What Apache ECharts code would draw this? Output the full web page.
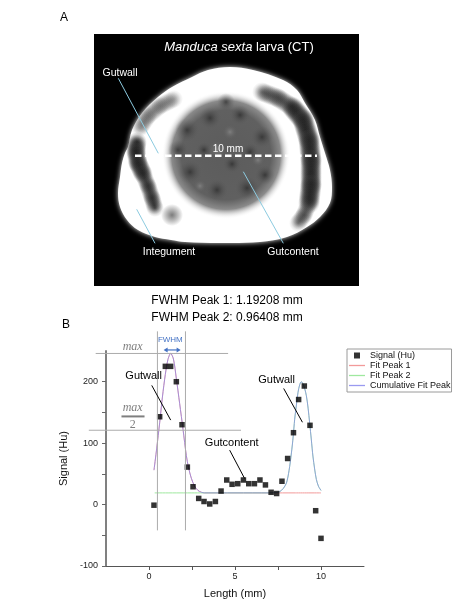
<!DOCTYPE html>
<html>
<head>
<meta charset="utf-8">
<script src="https://cdn.jsdelivr.net/npm/echarts@6.0.0/dist/echarts.min.js"></script>
<style>
html,body{margin:0;padding:0;background:#fff}
#main{width:468px;height:608px}
</style>
</head>
<body>
<div id="main"></div>
<script>
var font = 'Liberation Sans, Arial, Helvetica, sans-serif';

// measured signal along the 10 mm line
var lengthMm = [0.29,0.62,0.95,1.26,1.59,1.92,2.23,2.56,2.89,3.2,3.53,3.86,4.19,4.52,4.83,5.16,5.49,5.8,6.13,6.45,6.77,7.1,7.42,7.73,8.06,8.4,8.7,9.03,9.36,9.69,10.0];
var signalHu = [-1,143,225,225,200,130,61,29,10,5,1,5,22,40,33,34,40,34,34,40,32,20,18,38,75,117,171,193,129,-10,-55];

// fit curves
var peak1X = [0.29,0.45,0.62,0.78,0.95,1.1,1.26,1.42,1.59,1.78,1.98,2.17,2.3,2.46,2.65,2.85,3.05,3.24,5,7,8.5,10];
var peak1Y = [56,92,133,175,212,236,246,237,205,165,122,80,60,43,30,23,20,19,19,19,19,19];
var peak2X = [0.33,3,5,7,7.4,7.6,7.8,7.99,8.14,8.28,8.38,8.47,8.57,8.66,8.76,8.86,8.96,9.05,9.15,9.25,9.34,9.44,9.53,9.63,9.73,9.85,10];
var peak2Y = [19,19,19,19,19.5,21,26,35,55,84,110,139,162,182,195,200,196,189,177,157,133,105,79,58,41,30,23];
var cumX = [0.29,0.45,0.62,0.78,0.95,1.1,1.26,1.42,1.59,1.78,1.98,2.17,2.3,2.46,2.65,2.85,3.05,3.24,5,7,7.4,7.6,7.8,7.99,8.14,8.28,8.38,8.47,8.57,8.66,8.76,8.86,8.96,9.05,9.15,9.25,9.34,9.44,9.53,9.63,9.73,9.85,10];
var cumY = [56,92,133,175,212,236,246,237,205,165,122,80,60,43,30,23,20,19,19,19,19.5,21,26,35,55,84,110,139,162,182,195,200,196,189,177,157,133,105,79,58,41,30,23];

var xLabels = [0,5,10];
var xTicks = [0,2.5,5,7.5,10];
var yLabels = [-100,0,100,200];
var yTicks = [-100,-50,0,50,100,150,200];

var colFit1 = '#f29a9a', colFit2 = '#9fe89f', colCum = '#9a9af0';

function zip(a,b){
    var out = [];
    for(var i=0;i<a.length;i++){ out.push([a[i],b[i]]); }
    return out;
}

var lineIcon = 'path://M0,0h16v1.3h-16z';
function legendLine(name,c){
    return {name:name, icon:lineIcon, itemStyle:{color:c, borderWidth:0, opacity:1}, lineStyle:{color:c, opacity:1}};
}

var chart = echarts.init(document.getElementById('main'));

var option = {
    animation:false,
    textStyle:{fontFamily:font},
    grid:{left:106,top:351,width:258,height:215},
    legend:{
        orient:'vertical',
        left:347, top:349,
        itemWidth:16, itemHeight:6, itemGap:1,
        padding:[2,1,2,2],
        borderColor:'#9a9a9a', borderWidth:1,
        textStyle:{fontSize:9, color:'#111', fontFamily:font},
        data:[
            {name:'Signal (Hu)', icon:'path://M0,0h1v1h-1z'},
            legendLine('Fit Peak 1',colFit1),
            legendLine('Fit Peak 2',colFit2),
            legendLine('Cumulative Fit Peak',colCum)
        ]
    },
    xAxis:{
        type:'value', min:-2.5, max:12.5,
        name:'Length (mm)', nameLocation:'middle', nameGap:22,
        nameTextStyle:{fontSize:11, color:'#111'},
        axisLine:{onZero:false, lineStyle:{color:'#555', width:1}},
        axisTick:{length:4, customValues:xTicks, lineStyle:{color:'#555'}},
        axisLabel:{customValues:xLabels, fontSize:9, color:'#222', margin:6},
        splitLine:{show:false}
    },
    yAxis:{
        type:'value', min:-100, max:250,
        name:'Signal (Hu)', nameLocation:'middle', nameGap:27,
        nameTextStyle:{fontSize:11, color:'#111'},
        axisLine:{show:true, onZero:false, lineStyle:{color:'#808080', width:2}},
        axisTick:{show:true, length:4, customValues:yTicks, lineStyle:{color:'#666'}},
        axisLabel:{customValues:yLabels, fontSize:9, color:'#222', margin:8},
        splitLine:{show:false}
    },
    series:[
        {
            name:'Fit Peak 1', type:'line', data:zip(peak1X,peak1Y),
            smooth:0.3, symbol:'none', z:2,
            lineStyle:{color:colFit1, width:1}, itemStyle:{color:colFit1}
        },
        {
            name:'Fit Peak 2', type:'line', data:zip(peak2X,peak2Y),
            smooth:0.3, symbol:'none', z:2,
            lineStyle:{color:colFit2, width:1}, itemStyle:{color:colFit2}
        },
        {
            name:'Cumulative Fit Peak', type:'line', data:zip(cumX,cumY),
            smooth:0.3, symbol:'none', z:3,
            lineStyle:{color:'#8888ee', width:1, opacity:0.7}, itemStyle:{color:colCum}
        },
        {
            name:'Signal (Hu)', type:'scatter', data:zip(lengthMm,signalHu),
            symbol:'rect', symbolSize:5.5, z:5,
            itemStyle:{color:'#000'}
        }
    ]
};
chart.setOption(option);

// ---- panel A: CT slice drawn as shapes ----
var bodyOutline = [[158,97],[172,87],[192,77],[208,70],[230,67],[253,70],[283,80],[297,90],[305,103],[315,120],[320,137],[325,153],[330,170],[332,187],[330,203],[320,217],[307,227],[287,237],[260,242],[220,243],[185,242],[171,240],[155,237],[138,230],[127,220],[120,207],[118,193],[120,177],[122,163],[125,153],[128,147],[132,130],[142,113]];
var leftBandCore = [[137,142],[136,152],[138,163],[143,174]];
var leftBandTail = [[143,174],[148,186],[152,198],[155,208]];
var leftGray = [[140,128],[148,116],[160,106],[174,99]];
var rightBandTop = [[262,92],[278,98],[292,107]];
var rightBand = [[292,107],[303,120],[309,140],[311,160],[311,185],[309,203]];
var rightBandTail = [[309,203],[304,215],[298,223]];
var darkSpots = [[187,130,12],[210,118,11],[240,115,10],[262,137,11],[190,172,12],[217,190,11],[247,188,12],[265,175,10],[232,164,9],[204,150,8],[250,152,9],[178,150,10],[226,102,9]];
var lightSpots = [[217,150,10],[230,132,8],[200,186,7],[258,160,7]];

function spot(x,y,r,c){
    return {
        type:'circle', shape:{cx:x,cy:y,r:r},
        style:{fill:new echarts.graphic.RadialGradient(0.5,0.5,0.5,[{offset:0,color:c},{offset:1,color:'rgba(90,90,90,0)'}])}
    };
}
// soft dots along a path give a blurred band
function blurBand(points, r, c){
    for(var i=0;i<points.length-1;i++){
        var a = points[i], b = points[i+1];
        var d = Math.sqrt((b[0]-a[0])*(b[0]-a[0])+(b[1]-a[1])*(b[1]-a[1]));
        var n = Math.max(1, Math.round(d/2.5));
        for(var j=0;j<=n;j++){
            var t = j/n;
            g.push(spot(a[0]+(b[0]-a[0])*t, a[1]+(b[1]-a[1])*t, r, c));
        }
    }
}

var g = [];
g.push({type:'rect', shape:{x:94,y:34,width:265,height:252}, style:{fill:'#000'}});
g.push({type:'polygon', shape:{points:bodyOutline, smooth:0.35},
    style:{fill:'#fff', shadowBlur:5, shadowColor:'rgba(255,255,255,0.9)'}});
blurBand(leftGray, 9, 'rgba(100,100,100,0.4)');
blurBand(leftBandCore, 10, 'rgba(0,0,0,0.85)');
blurBand(leftBandTail, 9, 'rgba(20,20,20,0.6)');
blurBand(rightBandTop, 10, 'rgba(50,50,50,0.5)');
blurBand(rightBand, 11, 'rgba(0,0,0,0.85)');
blurBand(rightBandTail, 9, 'rgba(50,50,50,0.45)');
g.push(spot(172,215,11,'rgba(110,110,110,0.9)'));
g.push({type:'ellipse', shape:{cx:226,cy:155,rx:64,ry:66},
    style:{fill:new echarts.graphic.RadialGradient(0.5,0.5,0.5,[
        {offset:0,color:'#5c5c5c'},{offset:0.7,color:'#606060'},{offset:0.85,color:'#8a8a8a'},{offset:1,color:'rgba(255,255,255,0)'}])}});
darkSpots.forEach(function(p){ g.push(spot(p[0],p[1],p[2],'rgba(40,40,40,0.7)')); });
lightSpots.forEach(function(p){ g.push(spot(p[0],p[1],p[2],'rgba(135,135,135,0.8)')); });
g.push({type:'line', shape:{x1:135,y1:155.7,x2:317,y2:155.7},
    style:{stroke:'#fff', lineWidth:2.5, lineDash:[6.5,3.5]}});
g.push({type:'text', x:228, y:149, style:{text:'10 mm', fill:'#fff', fontSize:10, fontFamily:font, align:'center', verticalAlign:'middle'}});
g.push({type:'text', x:239, y:47, style:{text:'{i|Manduca sexta} larva (CT)', fill:'#fff', fontSize:13, fontFamily:font, align:'center', verticalAlign:'middle',
    rich:{i:{fontStyle:'italic', fill:'#fff', fontSize:13, fontFamily:font}}}});
// pointer lines and labels
[[118.3,78.3,158.3,153.3],[136.7,209.3,155,243.3],[243.3,171.7,283.3,243.3]].forEach(function(l){
    g.push({type:'line', shape:{x1:l[0],y1:l[1],x2:l[2],y2:l[3]}, style:{stroke:'#8ccbe0', lineWidth:1}});
});
[['Gutwall',120,73],['Integument',169,252],['Gutcontent',293,252]].forEach(function(t){
    g.push({type:'text', x:t[1], y:t[2], style:{text:t[0], fill:'#fff', fontSize:10.5, fontFamily:font, align:'center', verticalAlign:'middle'}});
});
g.push({type:'text', x:64, y:18, style:{text:'A', fill:'#000', fontSize:12, fontFamily:font, align:'center', verticalAlign:'middle'}});
g.push({type:'text', x:66, y:325, style:{text:'B', fill:'#000', fontSize:12, fontFamily:font, align:'center', verticalAlign:'middle'}});
g.push({type:'text', x:227, y:301, style:{text:'FWHM Peak 1: 1.19208 mm', fill:'#000', fontSize:12, fontFamily:font, align:'center', verticalAlign:'middle'}});
g.push({type:'text', x:227, y:318, style:{text:'FWHM Peak 2: 0.96408 mm', fill:'#000', fontSize:12, fontFamily:font, align:'center', verticalAlign:'middle'}});

// ---- panel B annotations, anchored in data space ----
function px(x,y){ return chart.convertToPixel({gridIndex:0},[x,y]); }
function dline(a,b,color,w){
    var p = px(a[0],a[1]), q = px(b[0],b[1]);
    g.push({type:'line', z:10, shape:{x1:p[0],y1:p[1],x2:q[0],y2:q[1]}, style:{stroke:color, lineWidth:w||1}});
}
function dtext(s,at,size,color,extra){
    var p = px(at[0],at[1]);
    var st = {text:s, fill:color, fontSize:size, fontFamily:font, align:'center', verticalAlign:'middle'};
    for(var k in extra){ st[k] = extra[k]; }
    g.push({type:'text', z:11, x:p[0], y:p[1], style:st});
}
var guide = '#ababab';
var serif = 'Liberation Serif, DejaVu Serif, serif';
dline([0.49,282],[0.49,-42],guide);
dline([2.12,282],[2.12,-42],guide);
dline([-3.1,246],[4.6,246],guide);
dline([-3.5,121],[5.35,121],guide);
dtext('max',[-0.95,256],12,'#7f7f7f',{fontFamily:serif, fontStyle:'italic'});
dtext('max',[-0.95,157],12,'#7f7f7f',{fontFamily:serif, fontStyle:'italic'});
dline([-1.6,143.5],[-0.26,143.5],'#7f7f7f',2);
dtext('2',[-0.95,130],12,'#7f7f7f',{fontFamily:serif});
dtext('FWHM',[1.24,267.5],8,'#4472c4');
var a1 = px(0.85,251.7), a2 = px(1.84,251.7);
g.push({type:'line', z:11, shape:{x1:a1[0]+2,y1:a1[1],x2:a2[0]-2,y2:a2[1]}, style:{stroke:'#4472c4', lineWidth:1.2}});
g.push({type:'polygon', z:11, shape:{points:[[a1[0],a1[1]],[a1[0]+4,a1[1]-2.5],[a1[0]+4,a1[1]+2.5]]}, style:{fill:'#4472c4'}});
g.push({type:'polygon', z:11, shape:{points:[[a2[0],a2[1]],[a2[0]-4,a2[1]-2.5],[a2[0]-4,a2[1]+2.5]]}, style:{fill:'#4472c4'}});
dtext('Gutwall',[-0.31,209],11,'#000');
dline([0.16,194],[1.26,137.5],'#000');
dtext('Gutwall',[7.42,203],11,'#000');
dline([7.83,189],[8.92,134],'#000');
dtext('Gutcontent',[4.81,101],11,'#000');
dline([4.69,88.6],[5.56,42.4],'#000');

chart.setOption({graphic:g});
</script>
</body>
</html>
